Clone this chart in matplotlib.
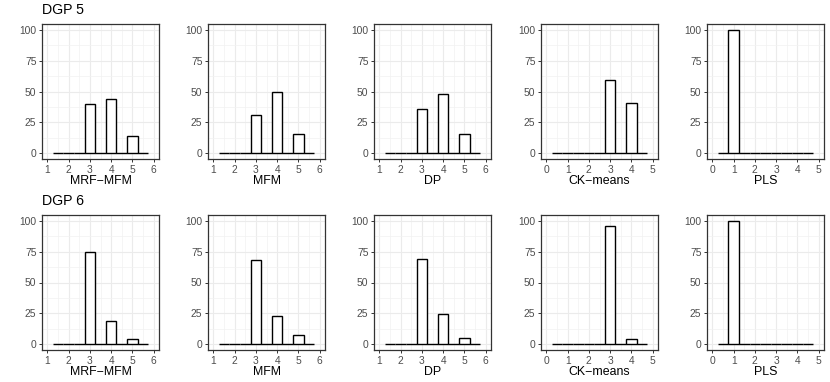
import numpy as np
import matplotlib
matplotlib.use('Agg')
import matplotlib.pyplot as plt

plt.rcParams['font.family'] = ['Liberation Sans', 'DejaVu Sans']

# Datos: % de replicas que estiman k grupos
methods = ['MRF−MFM', 'MFM', 'DP', 'CK−means', 'PLS']
rows = ['DGP 5', 'DGP 6']

counts = {
    'DGP 5': [
        {3: 40, 4: 44, 5: 14},
        {3: 31, 4: 50, 5: 15},
        {3: 36, 4: 48, 5: 15},
        {3: 59, 4: 41},
        {1: 100},
    ],
    'DGP 6': [
        {3: 75, 4: 19, 5: 4},
        {3: 68, 4: 23, 5: 7},
        {3: 69, 4: 24, 5: 5},
        {3: 96, 4: 4},
        {1: 100},
    ],
}

# rango de bins y eje x por metodo
bin_range = [(1.5, 5.5), (1.5, 5.5), (1.5, 5.5), (0.5, 4.5), (0.5, 4.5)]
x_limits = [(1, 6), (1, 6), (1, 6), (0, 5), (0, 5)]

fig = plt.figure(figsize=(8.3, 3.82), dpi=100)
W, H = 830, 382
lefts = [42, 208, 374, 541, 707]
tops = [24, 215]
pw, ph = 117, 135

for r, row in enumerate(rows):
    for j, m in enumerate(methods):
        ax = fig.add_axes([lefts[j] / W, (H - tops[r] - ph) / H, pw / W, ph / H])
        lo, hi = bin_range[j]
        centers = np.arange(lo, hi + 0.01, 0.5)
        heights = [counts[row][j].get(c, 0) for c in centers]
        ax.bar(centers, heights, width=0.5, color='white', edgecolor='black',
               linewidth=1.0, zorder=3)
        a, b = x_limits[j]
        ax.set_xlim(a - 0.05 * (b - a), b + 0.05 * (b - a))
        ax.set_ylim(-5, 105)
        ax.set_xticks(np.arange(a, b + 1))
        ax.set_xticks(np.arange(a + 0.5, b, 1), minor=True)
        ax.set_yticks([0, 25, 50, 75, 100])
        ax.set_yticks([12.5, 37.5, 62.5, 87.5], minor=True)
        ax.grid(which='major', color='#EBEBEB', linewidth=0.8, zorder=0)
        ax.grid(which='minor', color='#F2F2F2', linewidth=0.5, zorder=0)
        ax.set_axisbelow(True)
        for s in ax.spines.values():
            s.set_color('#333333')
            s.set_linewidth(0.9)
        ax.tick_params(which='major', length=2.5, width=0.7, color='#333333',
                       labelsize=7.4, labelcolor='#4D4D4D', pad=1.5)
        ax.tick_params(which='minor', length=0)
        ax.set_xlabel(m, fontsize=8.9, labelpad=0.5)
    fig.text(lefts[0] / W, 1 - (tops[r] - 14) / H, row, fontsize=10.2,
             ha='left', va='center')

fig.savefig('out.png', dpi=100)
